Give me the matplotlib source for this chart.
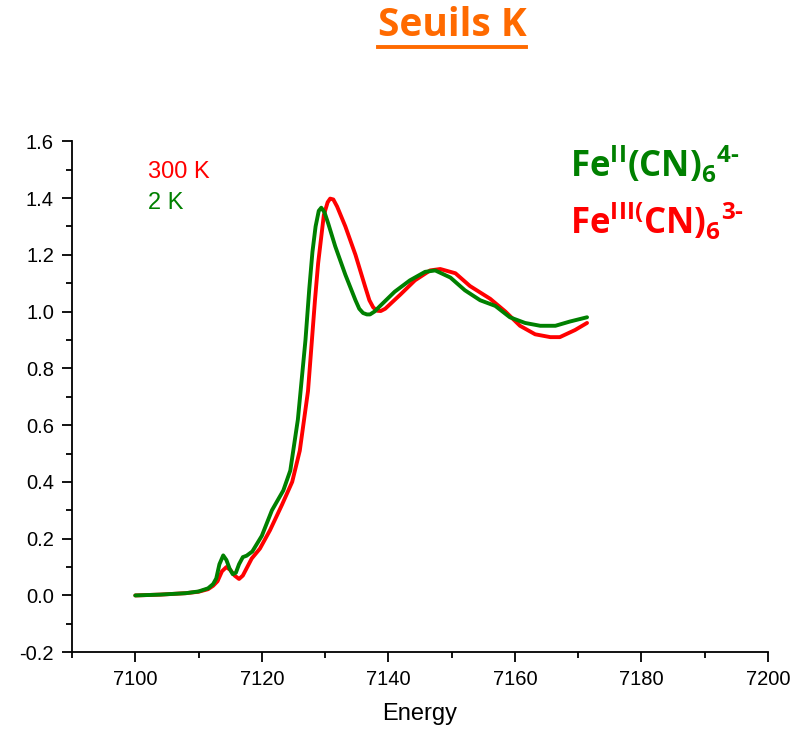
"""Spectres XANES au seuil K du fer : Fe(CN)6 à 300 K et 2 K."""

import matplotlib
import matplotlib.lines as mlines
from matplotlib.ticker import FormatStrFormatter, MultipleLocator

matplotlib.use("Agg")
import matplotlib.pyplot as plt


# 300 K, Fe(III)(CN)6 3-
energy_300k = [
    7100, 7104, 7108, 7110, 7111.5, 7112.3, 7113.0, 7113.7, 7114.4, 7115.0,
    7115.7, 7116.4, 7117.0, 7117.7, 7118.4, 7119.7, 7121.3, 7123.2, 7124.8,
    7126.0, 7127.3, 7128.4, 7128.9, 7129.8, 7130.4, 7130.8, 7131.3, 7131.9,
    7133.2, 7134.8, 7136.3, 7137.0, 7137.6, 7138.2, 7138.8, 7139.5, 7141.9,
    7144.2, 7146.6, 7148.2, 7150.6, 7152.9, 7156.1, 7158.5, 7160.8, 7163.2,
    7165.6, 7167.1, 7169.5, 7171.4,
]
mu_300k = [
    0.0, 0.003, 0.008, 0.013, 0.022, 0.034, 0.05, 0.085, 0.10, 0.09,
    0.07, 0.058, 0.07, 0.10, 0.13, 0.165, 0.23, 0.32, 0.40,
    0.51, 0.72, 1.04, 1.17, 1.34, 1.385, 1.398, 1.395, 1.37,
    1.30, 1.20, 1.09, 1.04, 1.015, 1.003, 1.002, 1.01, 1.06,
    1.11, 1.145, 1.15, 1.135, 1.09, 1.045, 1.0, 0.95, 0.92,
    0.91, 0.91, 0.935, 0.96,
]

# 2 K, Fe(II)(CN)6 4-
energy_2k = [
    7100, 7104, 7108, 7110, 7111.5, 7112.3, 7112.8, 7113.3, 7113.9, 7114.4,
    7114.9, 7115.4, 7115.9, 7116.4, 7117.0, 7117.6, 7118.5, 7120.0, 7121.6,
    7123.4, 7124.5, 7125.7, 7126.9, 7127.5, 7128.0, 7128.5, 7129.0, 7129.4,
    7129.9, 7130.5, 7131.6, 7133.2, 7134.8, 7135.4, 7136.0, 7136.6, 7137.1,
    7137.8, 7138.7, 7141.0, 7143.4, 7145.8, 7147.4, 7149.8, 7152.1, 7154.5,
    7156.9, 7159.2, 7161.6, 7164.0, 7166.4, 7168.7, 7171.4,
]
mu_2k = [
    0.0, 0.003, 0.008, 0.014, 0.025, 0.04, 0.06, 0.11, 0.141, 0.125,
    0.095, 0.075, 0.08, 0.11, 0.135, 0.14, 0.155, 0.21, 0.30,
    0.37, 0.44, 0.62, 0.90, 1.08, 1.21, 1.30, 1.355, 1.366,
    1.35, 1.31, 1.23, 1.13, 1.04, 1.01, 0.995, 0.99, 0.99,
    1.0, 1.02, 1.07, 1.11, 1.14, 1.145, 1.12, 1.075, 1.04,
    1.02, 0.98, 0.96, 0.95, 0.95, 0.965, 0.98,
]

RED = "#ff0000"
GREEN = "#008000"
ORANGE = "#ff6a00"


def main():
    plt.rcParams["font.family"] = ["Liberation Sans", "DejaVu Sans"]
    plt.rcParams["mathtext.fontset"] = "custom"
    plt.rcParams["mathtext.rm"] = "Open Sans:bold"
    plt.rcParams["mathtext.bf"] = "Open Sans:bold"

    fig = plt.figure(figsize=(8.0, 7.32), dpi=100)
    ax = fig.add_axes([0.09, 0.109, 0.87, 0.698])

    line_kw = dict(linewidth=2.8, solid_capstyle="round", solid_joinstyle="round")
    ax.plot(energy_300k, mu_300k, color=RED, zorder=2, **line_kw)
    ax.plot(energy_2k, mu_2k, color=GREEN, zorder=3, **line_kw)

    ax.set_xlim(7090, 7200)
    ax.set_ylim(-0.2, 1.6)
    ax.xaxis.set_major_locator(MultipleLocator(20))
    ax.xaxis.set_minor_locator(MultipleLocator(10))
    ax.yaxis.set_major_locator(MultipleLocator(0.2))
    ax.yaxis.set_minor_locator(MultipleLocator(0.1))
    ax.yaxis.set_major_formatter(FormatStrFormatter("%.1f"))
    ax.set_xticks([7100, 7120, 7140, 7160, 7180, 7200])

    for side in ("top", "right"):
        ax.spines[side].set_visible(False)
    for side in ("left", "bottom"):
        ax.spines[side].set_linewidth(1.3)
    ax.tick_params(which="major", direction="out", length=7, width=1.3, labelsize=14.5, pad=6)
    ax.tick_params(which="minor", direction="out", length=4, width=1.3)

    ax.set_xlabel("Energy", fontsize=17, labelpad=10)

    # Légende libre, en couleur
    ax.text(0.109, 0.939, "300 K", transform=ax.transAxes, color=RED, fontsize=17, va="center")
    ax.text(0.109, 0.879, "2 K", transform=ax.transAxes, color=GREEN, fontsize=17, va="center")

    ax.text(0.716, 0.955, r"$\mathrm{Fe^{II}(CN)_6{}^{4\text{-}}}$", transform=ax.transAxes,
            color=GREEN, fontsize=25, va="center", ha="left")
    ax.text(0.716, 0.845, r"$\mathrm{Fe^{III(}CN)_6{}^{3\text{-}}}$", transform=ax.transAxes,
            color=RED, fontsize=25, va="center", ha="left")

    title = fig.text(0.565, 0.965, "Seuils K", color=ORANGE, fontsize=28,
                     fontweight="bold", family="Open Sans", ha="center", va="center")
    fig.canvas.draw()
    bb = title.get_window_extent(fig.canvas.get_renderer()).transformed(fig.transFigure.inverted())
    fig.add_artist(mlines.Line2D([bb.x0, bb.x1], [bb.y0 - 0.002, bb.y0 - 0.002],
                                 color=ORANGE, linewidth=2.8, transform=fig.transFigure))

    fig.savefig("out.png", dpi=100, facecolor="white")
    plt.close(fig)


if __name__ == "__main__":
    main()
